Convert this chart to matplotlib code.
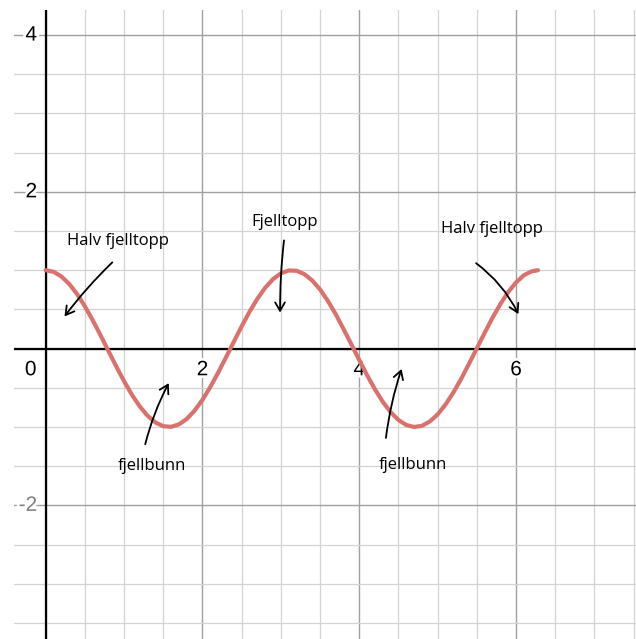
import numpy as np
import matplotlib.pyplot as plt
import matplotlib.patheffects as pe

# curve samples: y = cos(2x) on [0, 2*pi]
xs = [0.0, 0.1, 0.2, 0.3, 0.4, 0.5, 0.6, 0.7, 0.8, 0.9,
      1.0, 1.1, 1.2, 1.3, 1.4, 1.5, 1.6, 1.7, 1.8, 1.9,
      2.0, 2.1, 2.2, 2.3, 2.4, 2.5, 2.6, 2.7, 2.8, 2.9,
      3.0, 3.1, 3.2, 3.3, 3.4, 3.5, 3.6, 3.7, 3.8, 3.9,
      4.0, 4.1, 4.2, 4.3, 4.4, 4.5, 4.6, 4.7, 4.8, 4.9,
      5.0, 5.1, 5.2, 5.3, 5.4, 5.5, 5.6, 5.7, 5.8, 5.9,
      6.0, 6.1, 6.2, 6.28]
ys = [1.000, 0.980, 0.921, 0.825, 0.697, 0.540, 0.362, 0.170, -0.029, -0.227,
      -0.416, -0.589, -0.737, -0.857, -0.942, -0.990, -0.998, -0.967, -0.897, -0.791,
      -0.654, -0.490, -0.307, -0.112, 0.087, 0.284, 0.469, 0.635, 0.776, 0.886,
      0.960, 0.997, 0.993, 0.950, 0.869, 0.754, 0.608, 0.439, 0.248, 0.054,
      -0.146, -0.339, -0.519, -0.679, -0.811, -0.911, -0.975, -1.000, -0.985, -0.930,
      -0.839, -0.714, -0.561, -0.386, -0.193, 0.004, 0.202, 0.394, 0.568, 0.722,
      0.844, 0.936, 0.986, 1.000]

x_ticks = [2, 4, 6]
y_ticks = [4, 2, -2]

# labels: text, text position, arrow start, arrow tip, bend
notes = [
    ("Halv fjelltopp", (0.92, 1.37), (0.85, 1.10), (0.24, 0.41), 0.04),
    ("Fjelltopp", (3.05, 1.61), (3.04, 1.38), (2.99, 0.46), 0.03),
    ("Halv fjelltopp", (5.69, 1.53), (5.49, 1.09), (6.03, 0.44), -0.12),
    ("fjellbunn", (1.36, -1.50), (1.27, -1.22), (1.57, -0.44), -0.06),
    ("fjellbunn", (4.69, -1.49), (4.34, -1.14), (4.54, -0.26), -0.05),
]

fig = plt.figure(figsize=(6.36, 6.39), dpi=100)
ax = fig.add_axes([14/636, 0, 622/636, 629/639])
ax.set_xlim(-0.404, 7.53)
ax.set_ylim(-3.705, 4.32)
ax.axis('off')

# grid: minor every 0.5, major every 2
for g in np.arange(-0.5, 7.6, 0.5):
    major = abs(g % 2) < 1e-9
    ax.axvline(g, color='#a0a0a0' if major else '#d3d3d3', lw=1.0 if major else 0.9, zorder=0)
for g in np.arange(-3.5, 4.4, 0.5):
    major = abs(g % 2) < 1e-9
    ax.axhline(g, color='#a0a0a0' if major else '#d3d3d3', lw=1.0 if major else 0.9, zorder=0)
ax.axvline(0, color='black', lw=1.6, zorder=1)
ax.axhline(0, color='black', lw=1.6, zorder=1)

halo = [pe.withStroke(linewidth=4, foreground='white')]
lab = dict(family='Liberation Sans', fontsize=15, path_effects=halo, zorder=2)
for t in x_ticks:
    ax.text(t, -0.27, str(t), ha='center', va='center', **lab)
ax.text(-0.19, -0.27, '0', ha='center', va='center', **lab)
for t in y_ticks:
    ax.text(-0.11, t, str(t), ha='right', va='center',
            color='#808080' if t < 0 else 'black', **lab)

ax.plot(xs, ys, color='#d9726d', lw=3.0, solid_capstyle='round',
        solid_joinstyle='round', zorder=3)

for txt, tpos, start, tip, rad in notes:
    ax.text(tpos[0], tpos[1], txt, family='Open Sans', fontsize=12,
            ha='center', va='center', zorder=4)
    ax.annotate('', xy=tip, xytext=start,
                arrowprops=dict(arrowstyle='->,head_length=0.6,head_width=0.35',
                                color='black', lw=1.3,
                                connectionstyle=f'arc3,rad={rad}',
                                shrinkA=0, shrinkB=0),
                zorder=4)

fig.savefig('out.png', dpi=100, facecolor='white')
